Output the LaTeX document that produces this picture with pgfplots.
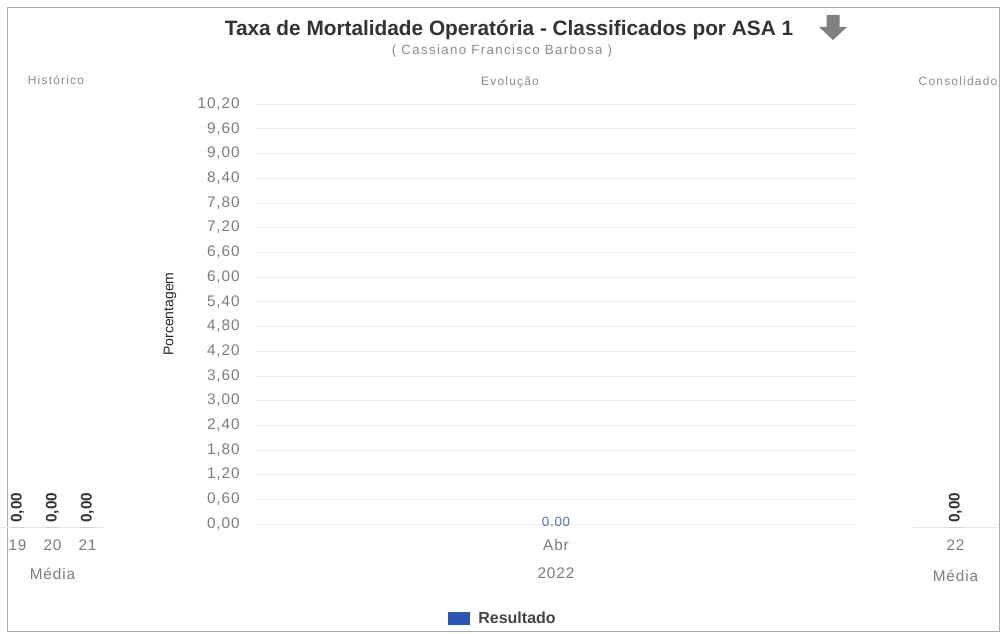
\documentclass[border=0pt]{standalone}
\usepackage{fontspec}
\setmainfont{Liberation Sans}
\usepackage{pgfplots}
\pgfplotsset{compat=1.18}
\definecolor{tickgray}{HTML}{7C7C7C}
\definecolor{hdrgray}{HTML}{8A8A8A}
\definecolor{titlegray}{HTML}{333333}
\definecolor{resblue}{HTML}{2D55B5}
\definecolor{datablue}{HTML}{5573AA}
\definecolor{legendgray}{HTML}{444444}
\definecolor{bordergray}{HTML}{AAAAAA}
\newcommand{\tickfont}{\fontsize{11.5}{13}\selectfont\addfontfeature{LetterSpace=6}}
\newcommand{\hdrfont}{\fontsize{9}{11}\selectfont\addfontfeature{LetterSpace=10}}
\tikzset{
  numcomma/.style={/pgf/number format/fixed, /pgf/number format/fixed zerofill,
    /pgf/number format/precision=2, /pgf/number format/use comma},
  numdot/.style={/pgf/number format/fixed, /pgf/number format/fixed zerofill,
    /pgf/number format/precision=2, /pgf/number format/use period},
}
\pgfplotsset{
  sidepanel/.style={
    anchor=south west, scale only axis, height=45pt,
    ybar, bar width=10pt, ymin=0, ymax=1, ytick=\empty,
    axis x line=bottom, axis y line=none,
    x axis line style={black!10,-},
    major tick length=0pt,
    /pgf/number format/assume math mode=true,
    xticklabel style={font=\tickfont, text=tickgray, yshift=-6pt},
    xlabel style={at={(axis description cs:0.5,0)}, anchor=center, yshift=-35pt, font=\tickfont, text=tickgray},
    nodes near coords,
    every node near coord/.append style={rotate=90, anchor=west, font=\bfseries\fontsize{11.5}{13}\selectfont, text=black!80, numcomma, inner sep=2pt, xshift=1pt},
  },
}
\begin{document}
\begin{tikzpicture}
\path[use as bounding box] (0,0) rectangle (752.25pt,474.75pt);
\begin{scope}[x=0.75pt,y=-0.75pt,yshift=474.75pt]
  \draw[bordergray, line width=0.75pt] (7,8) rectangle (999,631);
  \node[font=\bfseries\fontsize{15.6}{18}\selectfont, text=titlegray] at (509,30) {Taxa de Mortalidade Operatória - Classificados por ASA 1};
  \node[font=\fontsize{10}{12}\selectfont\addfontfeature{LetterSpace=10}, text=hdrgray] at (502,51) {( Cassiano Francisco Barbosa )};
  \fill[black!50] (826.5,15) -- (839.5,15) -- (839.5,27) -- (847,27) -- (833,40) -- (819,27) -- (826.5,27) -- cycle;
  \node[font=\hdrfont, text=hdrgray] at (56,80) {Histórico};
  \node[font=\hdrfont, text=hdrgray] at (510,82) {Evolução};
  \node[font=\hdrfont, text=hdrgray] at (958,81) {Consolidado};
\end{scope}

% Evolucao
\begin{axis}[
  at={(191.25pt,81.75pt)}, anchor=south west, scale only axis,
  width=451.5pt, height=315pt,
  ybar, bar width=20pt,
  xmin=-1, xmax=1, xtick={0}, xticklabels={Abr},
  ymin=0, ymax=10.2,
  ytick={0,0.6,1.2,1.8,2.4,3.0,3.6,4.2,4.8,5.4,6.0,6.6,7.2,7.8,8.4,9.0,9.6,10.2},
  axis line style={draw=none}, major tick length=0pt,
  ymajorgrids, grid style={black!7},
  /pgf/number format/assume math mode=true,
  tick label style={font=\tickfont, text=tickgray},
  yticklabel style={numcomma, xshift=-8pt},
  xticklabel style={yshift=-8pt},
  xlabel={2022},
  xlabel style={at={(axis description cs:0.5,0)}, anchor=center, yshift=-37pt, font=\tickfont, text=tickgray},
  ylabel={Porcentagem},
  ylabel style={at={(axis description cs:-0.141,0.5)}, anchor=center, font=\fontsize{10.5}{12}\selectfont, text=black!85},
  nodes near coords,
  every node near coord/.append style={anchor=center, yshift=1.5pt, font=\fontsize{10}{12}\selectfont\addfontfeature{LetterSpace=6}, text=datablue, numdot},
  legend style={at={(axis description cs:0.412,-0.226)}, anchor=center, draw=none, fill=none,
    font=\bfseries\fontsize{12}{14}\selectfont},
  legend image code/.code={\fill[#1] (0pt,-4.9pt) rectangle (17pt,4.9pt);},
]
\addplot[fill=resblue, draw=none] coordinates {(0,0)};
\addlegendentry{\hspace{4pt}\textcolor{legendgray}{Resultado}}
\end{axis}

% Historico
\begin{axis}[sidepanel,
  at={(0pt,79.5pt)}, width=78.75pt,
  xmin=18.5, xmax=21.5, xtick={19,20,21},
  xlabel={Média},
]
\addplot[fill=resblue, draw=none] coordinates {(19,0) (20,0) (21,0)};
\end{axis}

% Consolidado
\begin{axis}[sidepanel,
  at={(684.75pt,79.5pt)}, width=63.75pt,
  xmin=21.5, xmax=22.5, xtick={22},
  xlabel={Média},
  xlabel style={yshift=-2pt},
]
\addplot[fill=resblue, draw=none] coordinates {(22,0)};
\end{axis}
\end{tikzpicture}
\end{document}
